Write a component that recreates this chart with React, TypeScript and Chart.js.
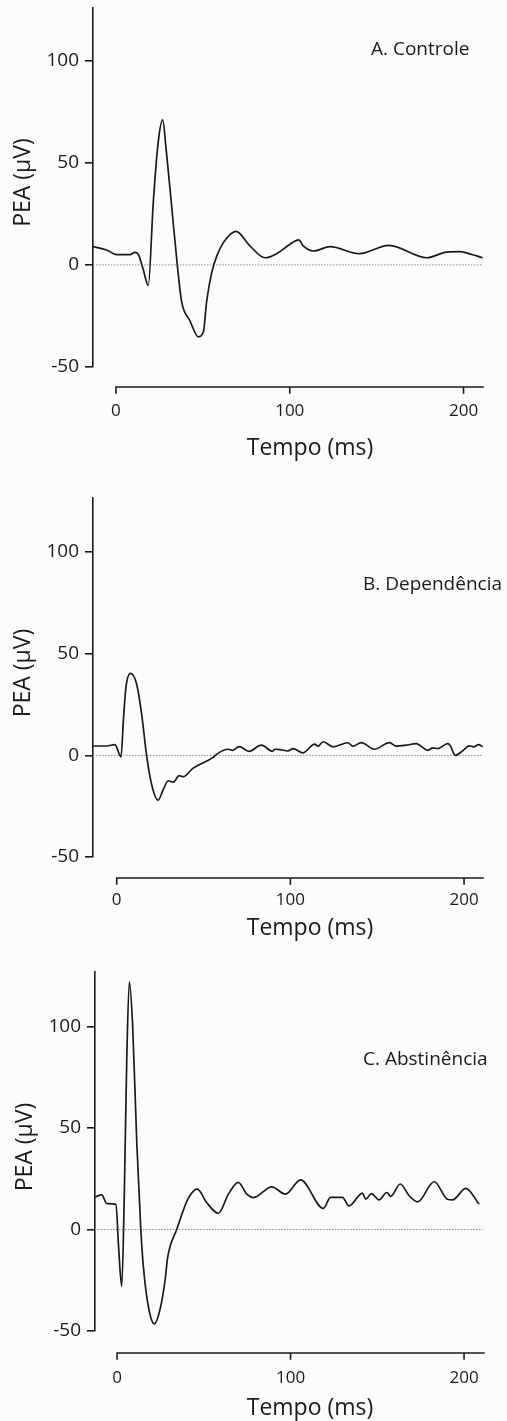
import React, { useEffect, useRef } from "react";
import { Chart, registerables } from "chart.js";

Chart.register(...registerables);

// ---------- data ----------
const xTicks = [0, 100, 200];
const yTicks = [-50, 0, 50, 100];

const panelLabels = ["A. Controle", "B. Dependência", "C. Abstinência"];
const xTitle = "Tempo (ms)";
const yTitle = "PEA (µV)";

const timeA = [-13.2, -5.4, 0.4, 8.1, 10.9, 12.9, 15.7, 18.6, 21.5, 24.4, 26.9, 28.8, 32.0, 35.3, 37.8, 42.6, 47.4, 50.3, 52.2, 55.1, 58.0, 61.8, 69.1, 77.1, 85.8, 92.5, 100.1, 105.2, 107.8, 113.6, 123.2, 140.0, 157.0, 178.8, 190.3, 198.0, 204.7, 211.0];
const peaA = [9.0, 7.3, 5.0, 5.0, 6.1, 5.1, -2.2, -10.0, 30.8, 60.7, 71.0, 57.4, 29.2, 0.0, -18.0, -27.4, -35.2, -32.9, -17.9, -3.8, 4.3, 10.9, 16.4, 9.3, 3.5, 5.5, 10.1, 12.3, 9.3, 6.8, 8.9, 5.5, 9.6, 3.5, 6.3, 6.5, 5.1, 3.5];

const timeB = [-13.4, -5.7, -1.0, 2.5, 3.8, 5.3, 8.0, 11.5, 14.4, 17.2, 20.1, 23.9, 26.8, 29.7, 32.5, 36.0, 38.3, 44.0, 55.5, 57.4, 64.1, 66.7, 70.5, 76.2, 83.3, 89.7, 91.0, 94.0, 98.6, 101.5, 107.2, 114.0, 115.9, 118.8, 124.6, 133.1, 136.0, 140.8, 148.4, 157.1, 160.9, 166.7, 172.4, 179.1, 182.0, 184.8, 190.6, 191.9, 195.0, 198.9, 203.0, 205.5, 208.4, 210.7];
const peaB = [4.6, 4.6, 5.3, -0.8, 16.6, 33.3, 40.3, 35.0, 20.0, 0.0, -14.3, -22.0, -16.8, -12.5, -13.2, -10.0, -10.5, -6.3, -1.0, 0.5, 3.0, 2.5, 4.3, 2.0, 5.0, 2.0, 3.0, 2.8, 2.2, 3.3, 1.2, 5.5, 4.5, 6.7, 4.2, 6.2, 4.5, 6.3, 3.0, 6.3, 4.5, 5.0, 5.8, 2.5, 3.7, 3.3, 5.8, 5.0, 0.0, 2.0, 4.7, 4.2, 5.3, 4.2];

const timeC = [-12.7, -8.8, -5.9, -0.6, 0.8, 2.7, 4.2, 5.6, 7.1, 9.0, 11.4, 13.7, 15.2, 18.0, 21.5, 24.8, 27.7, 29.2, 34.4, 41.1, 46.3, 51.7, 58.4, 64.2, 69.9, 74.8, 78.6, 89.2, 97.1, 105.8, 118.9, 123.1, 129.9, 133.7, 141.4, 143.4, 146.6, 151.0, 155.5, 157.8, 163.2, 168.4, 173.2, 182.8, 190.5, 193.4, 201.0, 208.7];
const peaC = [16.0, 17.0, 12.7, 12.4, -7.2, -28.0, 17.4, 83.7, 122.0, 100.3, 42.3, 0.0, -18.5, -37.7, -46.5, -39.3, -24.9, -13.6, 0.0, 15.4, 19.9, 13.2, 8.0, 17.4, 23.2, 17.4, 15.7, 21.0, 17.4, 24.4, 10.4, 15.8, 15.8, 11.6, 17.9, 14.9, 17.7, 14.6, 18.2, 16.3, 22.4, 16.6, 13.6, 23.5, 14.9, 14.6, 20.2, 12.4];

// baseline (0 µV) x-extents
const zeroA = [-13.2, 211.2];
const zeroB = [-13.65, 210.9];
const zeroC = [-12.7, 210.7];

// ---------- style / layout ----------
const FONT = "'Open Sans', 'DejaVu Sans', sans-serif";
const INK = "#1a1a1a";
const BG = "#fcfcfc";
const W = 507;

type Cfg = {
  top: number; height: number;
  area: { left: number; top: number; right: number; bottom: number };
  xMin: number; xMax: number; yMin: number; yMax: number;
  axisGap: number; xTickPad: number;
  xTitleX: number; xTitleBaseline: number;
  yTitleX: number; yTitleY: number;
  labelX: number; labelBaseline: number;
};

const CFG: Cfg[] = [
  { top: 0, height: 475, area: { left: 93, top: 8, right: 483, bottom: 367 }, xMin: -13.2, xMax: 211.2, yMin: -50, yMax: 125.8, axisGap: 20, xTickPad: 34, xTitleX: 310, xTitleBaseline: 455, yTitleX: 23, yTitleY: 182.5, labelX: 371, labelBaseline: 55 },
  { top: 475, height: 475, area: { left: 93, top: 23, right: 483, bottom: 382 }, xMin: -13.65, xMax: 210.9, yMin: -50, yMax: 126.6, axisGap: 21, xTickPad: 33, xTitleX: 310, xTitleBaseline: 460, yTitleX: 23, yTitleY: 198, labelX: 363, labelBaseline: 115 },
  { top: 950, height: 471, area: { left: 95, top: 22, right: 484, bottom: 381 }, xMin: -12.7, xMax: 211.5, yMin: -50, yMax: 126.8, axisGap: 22, xTickPad: 37, xTitleX: 310, xTitleBaseline: 465, yTitleX: 25, yTitleY: 197, labelX: 363, labelBaseline: 115 },
];

function Panel({ cfg, time, pea, zero, label }: { cfg: Cfg; time: number[]; pea: number[]; zero: number[]; label: string }) {
  const ref = useRef<HTMLCanvasElement | null>(null);
  useEffect(() => {
    if (!ref.current) return;
    const decor = {
      id: "decor",
      afterDraw(chart: any) {
        const { ctx, chartArea, scales } = chart;
        const xs = scales.x;
        const yLine = chartArea.bottom + cfg.axisGap;
        ctx.save();
        ctx.strokeStyle = INK;
        ctx.lineWidth = 1.6;
        ctx.lineCap = "square";
        ctx.beginPath();
        ctx.moveTo(xs.getPixelForValue(xTicks[0]), yLine);
        ctx.lineTo(chartArea.right, yLine);
        xTicks.forEach((t) => {
          const px = xs.getPixelForValue(t);
          ctx.moveTo(px, yLine);
          ctx.lineTo(px, yLine + 6);
        });
        ctx.stroke();
        ctx.fillStyle = INK;
        ctx.textBaseline = "alphabetic";
        ctx.textAlign = "center";
        ctx.font = `23px ${FONT}`;
        ctx.fillText(xTitle, cfg.xTitleX, cfg.xTitleBaseline);
        // y title
        ctx.save();
        ctx.translate(cfg.yTitleX, cfg.yTitleY);
        ctx.rotate(-Math.PI / 2);
        ctx.textBaseline = "middle";
        ctx.fillText(yTitle, 0, 0);
        ctx.restore();
        ctx.textAlign = "left";
        ctx.font = `19px ${FONT}`;
        ctx.fillText(label, cfg.labelX, cfg.labelBaseline);
        ctx.restore();
      },
    };
    const chart = new Chart(ref.current, {
      type: "line",
      data: {
        datasets: [
          {
            data: time.map((t, i) => ({ x: t, y: pea[i] })),
            borderColor: INK,
            borderWidth: 1.7,
            pointRadius: 0,
            cubicInterpolationMode: "monotone",
            fill: false,
            order: 1,
          },
          {
            data: zero.map((t) => ({ x: t, y: 0 })),
            borderColor: "#8a8a8a",
            borderWidth: 1,
            borderDash: [1.5, 1.5],
            pointRadius: 0,
            fill: false,
            order: 2,
          },
        ],
      },
      options: {
        animation: false,
        responsive: false,
        devicePixelRatio: 1,
        layout: { padding: { top: cfg.area.top, left: 0, right: W - cfg.area.right, bottom: 0 } },
        plugins: { legend: { display: false }, tooltip: { enabled: false }, title: { display: false } },
        scales: {
          x: {
            type: "linear",
            min: cfg.xMin,
            max: cfg.xMax,
            afterBuildTicks: (s: any) => { s.ticks = xTicks.map((v) => ({ value: v })); },
            afterFit: (s: any) => { s.height = cfg.height - cfg.area.bottom; s.paddingLeft = 0; s.paddingRight = 0; },
            grid: { display: false, drawTicks: false },
            border: { display: false },
            ticks: { padding: cfg.xTickPad, color: INK, font: { family: FONT, size: 17 }, maxRotation: 0, autoSkip: false },
          },
          y: {
            type: "linear",
            min: cfg.yMin,
            max: cfg.yMax,
            afterBuildTicks: (s: any) => { s.ticks = yTicks.map((v) => ({ value: v })); },
            afterFit: (s: any) => { s.width = cfg.area.left; s.paddingTop = 0; s.paddingBottom = 0; },
            grid: { display: true, drawOnChartArea: false, drawTicks: true, tickLength: 8, color: INK, lineWidth: 1.6 },
            border: { display: true, color: INK, width: 1.6 },
            ticks: { padding: 6, color: INK, font: { family: FONT, size: 19 }, autoSkip: false },
            title: { display: false },
          },
        },
      },
      plugins: [decor],
    } as any);
    return () => chart.destroy();
  }, []);
  return (
    <canvas
      ref={ref}
      width={W}
      height={cfg.height}
      style={{ position: "absolute", left: 0, top: cfg.top, display: "block" }}
    />
  );
}

export default function App() {
  return (
    <div style={{ position: "absolute", left: 0, top: 0, width: W, height: 1421, background: BG, overflow: "hidden" }}>
      <Panel cfg={CFG[0]} time={timeA} pea={peaA} zero={zeroA} label={panelLabels[0]} />
      <Panel cfg={CFG[1]} time={timeB} pea={peaB} zero={zeroB} label={panelLabels[1]} />
      <Panel cfg={CFG[2]} time={timeC} pea={peaC} zero={zeroC} label={panelLabels[2]} />
    </div>
  );
}
